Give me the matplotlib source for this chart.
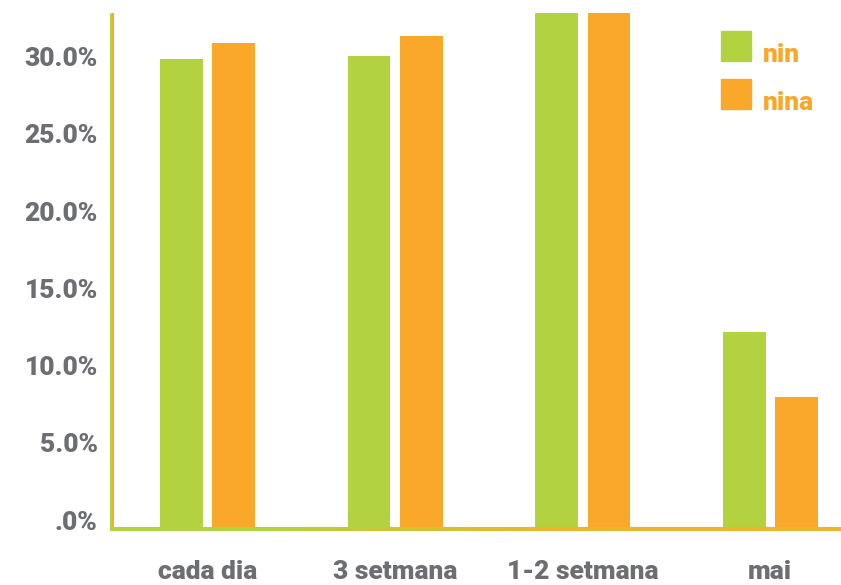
import numpy as np
import matplotlib
matplotlib.use("Agg")
import matplotlib.pyplot as plt
import matplotlib.transforms as mtransforms
from matplotlib.collections import LineCollection
from matplotlib.patches import Rectangle
from matplotlib.ticker import FuncFormatter

# data
categories = ["cada dia", "3 setmana", "1-2 setmana", "mai"]
nin = [30.3, 30.5, 34.5, 12.6]
nina = [31.3, 31.8, 34.5, 8.4]
series_names = ["nin", "nina"]
yticks = [0, 5, 10, 15, 20, 25, 30]

GREEN = "#b3d23f"
ORANGE = "#f9a82a"
GREY = "#6d6e71"

plt.rcParams["font.family"] = ["Roboto", "DejaVu Sans"]
plt.rcParams["font.weight"] = "heavy"

W, H = 841, 585
fig = plt.figure(figsize=(W / 100, H / 100), dpi=100)
ax = fig.add_axes([113 / W, (H - 527) / H, (W - 113) / W, (527 - 13) / H])

x = np.arange(len(categories))
bw = 0.229
off = 0.14
ax.bar(x - off, nin, bw, color=GREEN, label=series_names[0])
ax.bar(x + off, nina, bw, color=ORANGE, label=series_names[1])

ax.set_xlim(-0.505, 3.377)
ax.set_ylim(0, 33.27)

ax.set_yticks(yticks)
ax.yaxis.set_major_formatter(FuncFormatter(lambda v, p: ".0%" if v == 0 else f"{v:.1f}%"))
ax.set_xticks(x)
ax.set_xticklabels(categories)
ax.tick_params(axis="both", length=0, labelsize=19, labelcolor=GREY)
ax.tick_params(axis="y", pad=11)
ax.tick_params(axis="x", pad=24)

# y labels sit a bit above their ticks in the original
shift = mtransforms.ScaledTranslation(0, 0.07, fig.dpi_scale_trans)
for lab in ax.get_yticklabels():
    lab.set_transform(lab.get_transform() + shift)

for s in ax.spines.values():
    s.set_visible(False)

# left axis line: green with an orange edge
ax.plot([0, 0], [0, 1], transform=ax.transAxes + mtransforms.ScaledTranslation(-0.015, 0, fig.dpi_scale_trans),
        color=GREEN, lw=2.3, clip_on=False, solid_capstyle="butt")
ax.plot([0, 0], [0, 1], transform=ax.transAxes + mtransforms.ScaledTranslation(0.005, 0, fig.dpi_scale_trans),
        color=ORANGE, lw=1.4, clip_on=False, solid_capstyle="butt")

# bottom axis line fading from green to orange
n = 60
xs = np.linspace(-0.004, 1, n + 1)
segs = [[(xs[i], 0), (xs[i + 1], 0)] for i in range(n)]
g = np.array(matplotlib.colors.to_rgb(GREEN))
o = np.array(matplotlib.colors.to_rgb("#ecb52c"))
t = np.clip((xs[:-1] - 0.2) / 0.4, 0, 1)
cols = [tuple(g * (1 - k) + o * k) for k in t]
lc = LineCollection(segs, colors=cols, linewidths=3,
                    transform=ax.transAxes + mtransforms.ScaledTranslation(0, -0.02, fig.dpi_scale_trans),
                    clip_on=False, capstyle="butt")
ax.add_collection(lc)

# legend: square swatches with orange labels sitting a little low
for i, (name, col) in enumerate(zip(series_names, [GREEN, ORANGE])):
    top = 31 + i * 48
    fig.add_artist(Rectangle((721 / W, 1 - (top + 30) / H), 30 / W, 30 / H,
                             transform=fig.transFigure, color=col))
    fig.text(763 / W, 1 - (top + 24) / H, name, color=ORANGE, fontsize=19,
             fontweight="heavy", ha="left", va="center")

fig.savefig("out.png", dpi=100)
